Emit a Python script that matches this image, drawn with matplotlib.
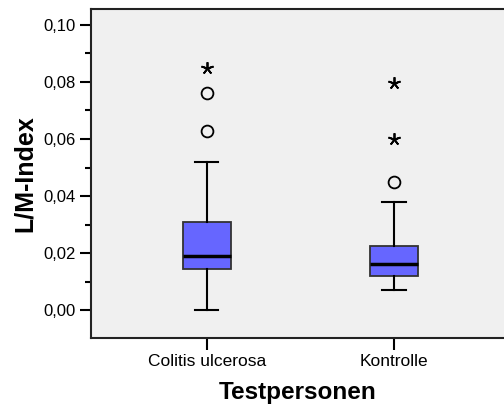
import matplotlib
matplotlib.use("Agg")
import matplotlib.pyplot as plt
from matplotlib.ticker import FuncFormatter, MultipleLocator

plt.rcParams['font.family'] = ['Liberation Sans', 'DejaVu Sans']

# Daten
gruppen = ["Colitis ulcerosa", "Kontrolle"]
whisker_unten = [0.0000, 0.0071]
q1 = [0.0145, 0.0120]
median = [0.0188, 0.0160]
q3 = [0.0308, 0.0225]
whisker_oben = [0.0520, 0.0379]
ausreisser = [[0.0628, 0.0760], [0.0450]]   # Kreise
extreme = [[0.0850], [0.0599, 0.0798]]       # Sterne

stats = []
for i in range(len(gruppen)):
    stats.append(dict(label=gruppen[i], whislo=whisker_unten[i], q1=q1[i],
                      med=median[i], q3=q3[i], whishi=whisker_oben[i], fliers=[]))

fig = plt.figure(figsize=(5.04, 4.09), dpi=100)
ax = fig.add_axes([91/504, 71/409, 1 - 91/504, 329/409])
ax.set_facecolor('#f0f0f0')

pos = [1, 2]
ax.bxp(stats, positions=pos, widths=0.255, patch_artist=True, showfliers=False,
       boxprops=dict(facecolor='#6666ff', edgecolor='#333333', linewidth=1.3),
       medianprops=dict(color='black', linewidth=2.5),
       whiskerprops=dict(color='black', linewidth=1.5),
       capprops=dict(color='black', linewidth=1.5), capwidths=0.125)

for i in range(len(gruppen)):
    ax.plot([pos[i]] * len(ausreisser[i]), ausreisser[i], 'o', ms=8.5,
            mfc='none', mec='black', mew=1.3, zorder=3)
    ax.plot([pos[i]] * len(extreme[i]), extreme[i], ls='none', marker=(5, 2, 0),
            ms=9, mec='black', mew=1.3, zorder=3)

ax.set_xlim(0.382, 2.587)
ax.set_ylim(-0.0098, 0.1056)
ax.yaxis.set_major_locator(MultipleLocator(0.02))
ax.yaxis.set_minor_locator(MultipleLocator(0.01))
ax.yaxis.set_major_formatter(FuncFormatter(lambda v, p: ("%.2f" % v).replace('.', ',')))
ax.set_xticks(pos)
ax.set_xticklabels(gruppen)

ax.tick_params(axis='y', which='major', length=8, width=1.5, labelsize=12, pad=3)
ax.tick_params(axis='y', which='minor', length=4.3, width=1.5)
ax.tick_params(axis='x', length=8.5, width=1.5, labelsize=12.5, pad=3)

for s in ['left', 'top', 'bottom']:
    ax.spines[s].set_linewidth(1.5)
    ax.spines[s].set_color('#222222')
ax.spines['right'].set_visible(False)

ax.set_ylabel("L/M-Index", fontsize=18, fontweight='bold', labelpad=5)
ax.set_xlabel("Testpersonen", fontsize=17.5, fontweight='bold', labelpad=9)

fig.savefig("out.png", dpi=100)
